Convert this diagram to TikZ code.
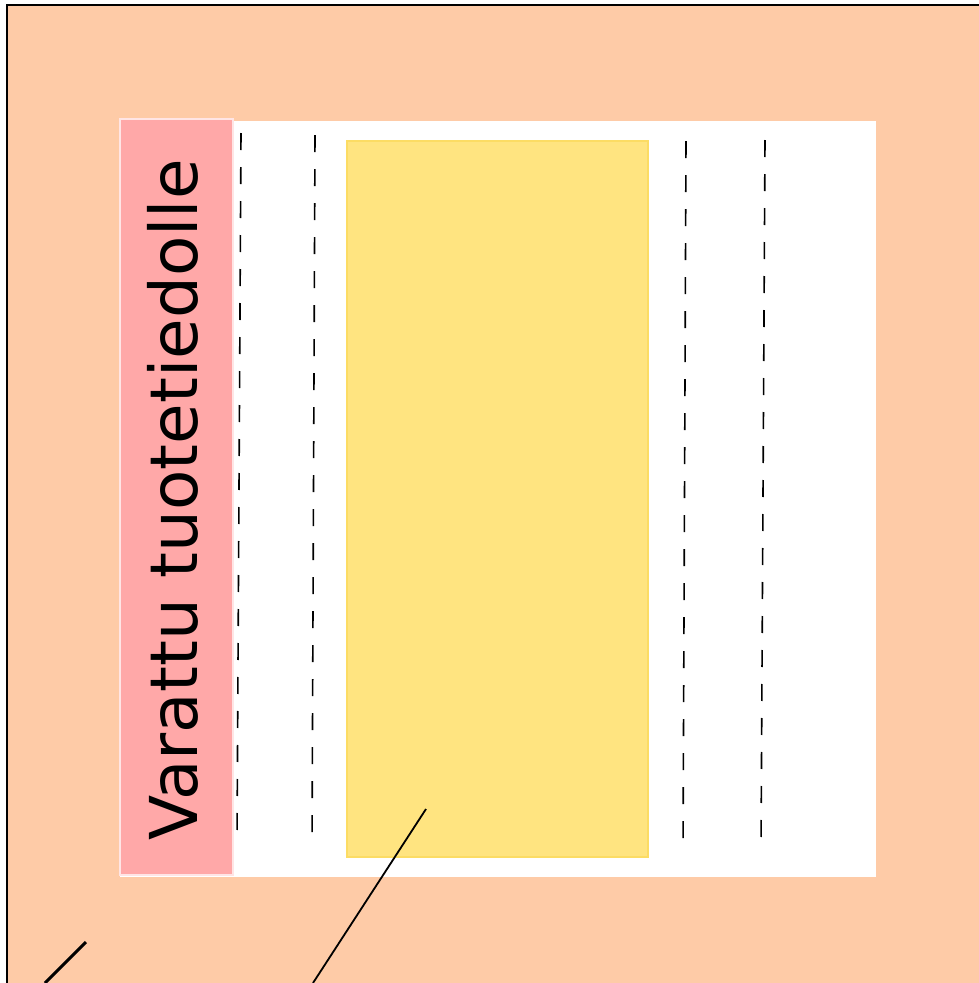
\documentclass[tikz,border=0pt]{standalone}
\usepackage{fontspec}
\newfontfamily\labelfont{DejaVu Sans}
\definecolor{peach}{RGB}{254,203,167}
\definecolor{reserved}{RGB}{255,168,168}
\definecolor{slot}{RGB}{255,228,128}
\definecolor{slotedge}{RGB}{252,220,100}

\begin{document}
\begin{tikzpicture}[x=1pt, y=-1pt,
    guide/.style={draw=black, line width=1.6pt, dash pattern=on 17pt off 17pt},
    leader/.style={draw=black, line width=1.8pt}]
  \useasboundingbox (0,0) rectangle (979,983);
  % background and frame
  \fill[peach] (7,5) rectangle (979,983);
  \draw[black, line width=2pt] (7,983) -- (7,5) -- (979,5);
  % panels
  \fill[white] (120,121) rectangle (876,877);
  \filldraw[fill=reserved, draw=white!70!reserved, line width=1.5pt] (120,119) rectangle (233,875);
  \filldraw[fill=slot, draw=slotedge, line width=1.5pt] (347,141) rectangle (648,857);
  \node[rotate=90, anchor=base west, inner sep=0pt, font=\labelfont\fontsize{66}{79}\selectfont]
    (label) at (197,841) {Varattu tuotetiedolle};
  % dashed guides
  \coordinate (g1top) at (241,133); \coordinate (g1bot) at (237,843);
  \coordinate (g2top) at (315,135); \coordinate (g2bot) at (312,845);
  \coordinate (g3top) at (686,141); \coordinate (g3bot) at (683,851);
  \coordinate (g4top) at (765,140); \coordinate (g4bot) at (761,850);
  \foreach \g in {1,2,3,4}
    \draw[guide] (g\g top) -- (g\g bot);
  % leader lines
  \coordinate (pin) at (426,809);
  \coordinate (pinend) at (313,983);
  \draw[leader] (pin) -- (pinend);
  \coordinate (tick) at (86,942);
  \coordinate (tickend) at (45,983);
  \draw[black, line width=3pt] (tick) -- (tickend);
\end{tikzpicture}
\end{document}
